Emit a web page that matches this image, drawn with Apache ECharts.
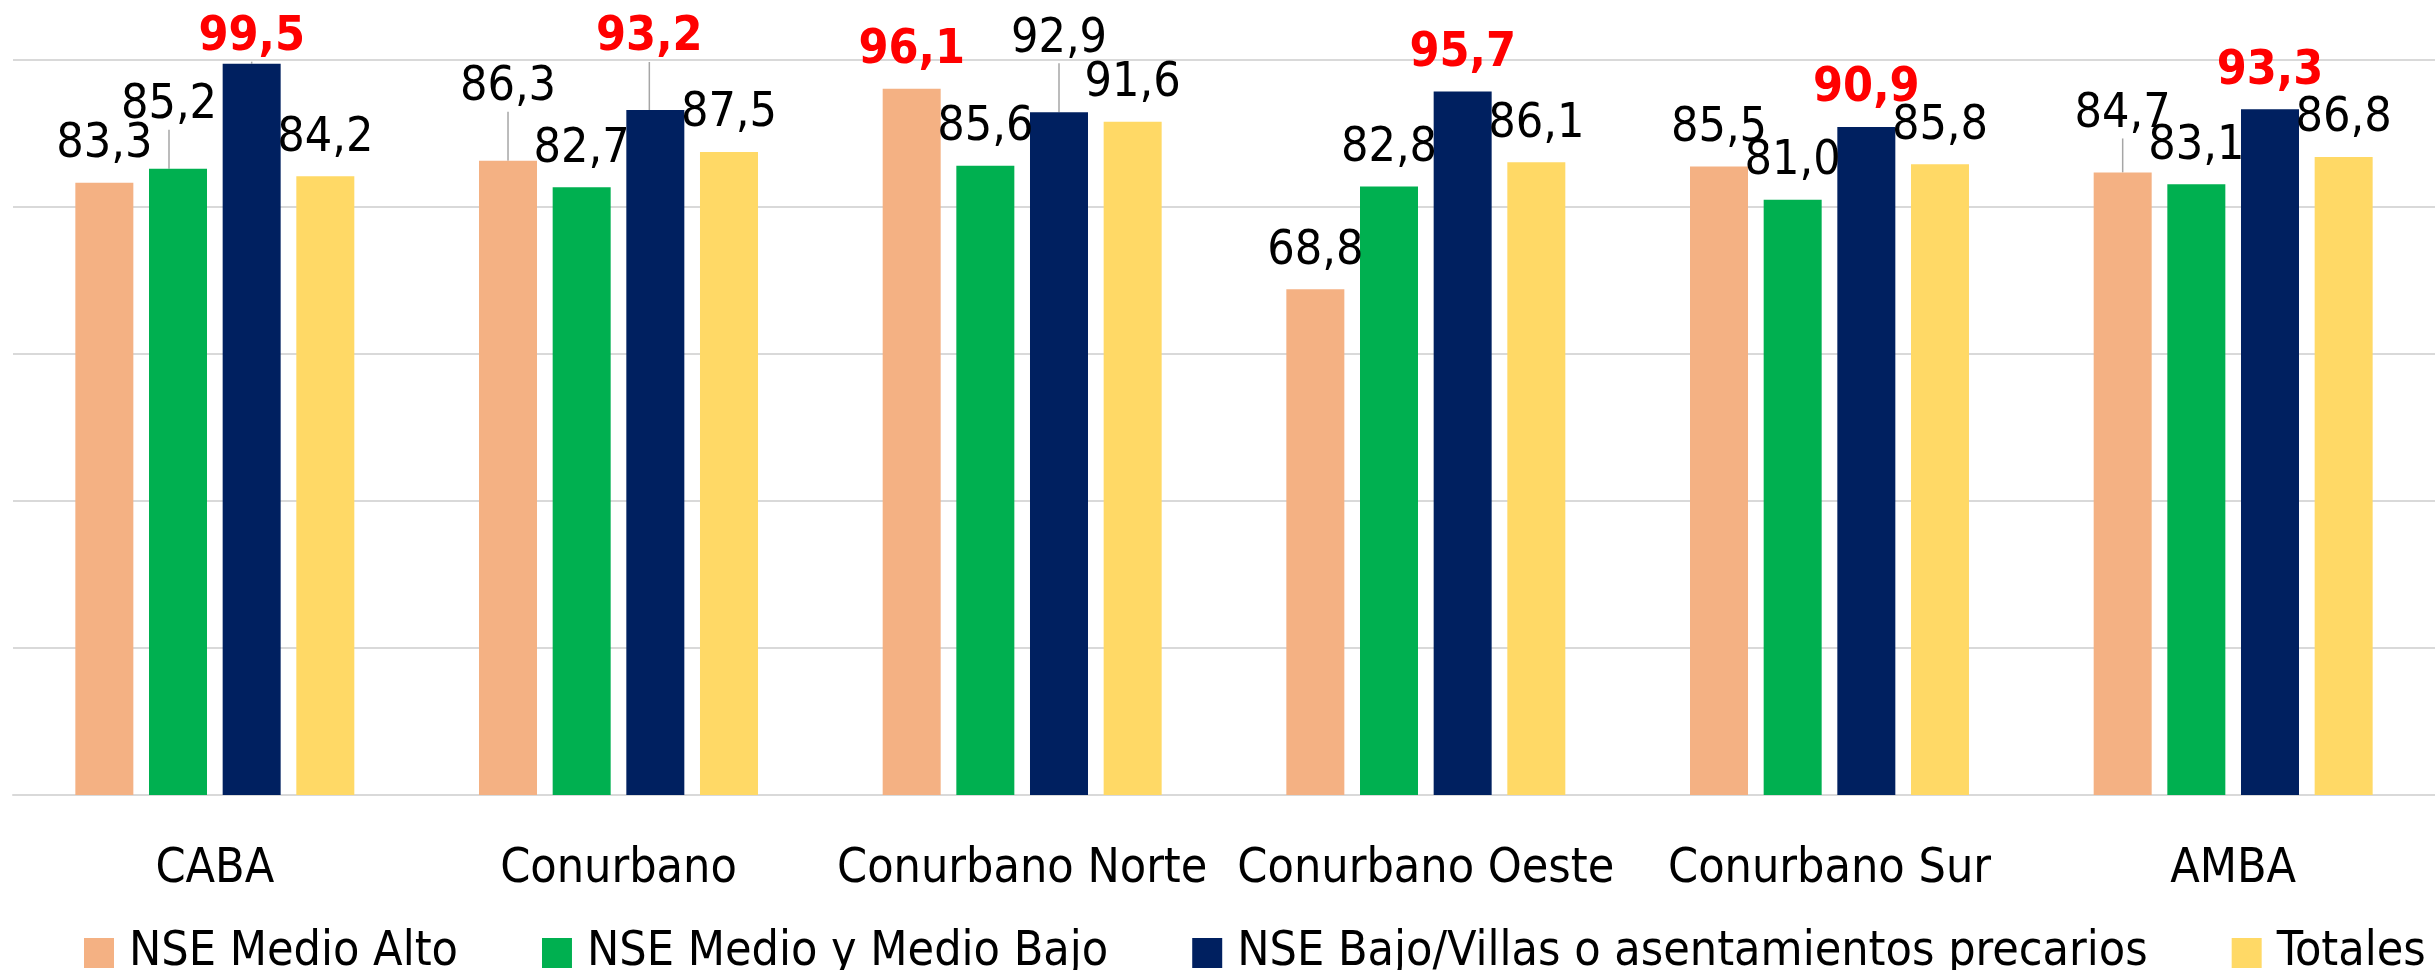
<!DOCTYPE html>
<html>
<head>
<meta charset="utf-8">
<script src="https://cdn.jsdelivr.net/npm/echarts@6/dist/echarts.min.js"></script>
<style>
  html, body { margin: 0; padding: 0; background: #ffffff; }
  #chart { width: 2435px; height: 970px; }
</style>
</head>
<body>
<div id="chart"></div>
<script>
const categories = ['CABA', 'Conurbano', 'Conurbano Norte', 'Conurbano Oeste', 'Conurbano Sur', 'AMBA'];
const seriesNames = ['NSE Medio Alto', 'NSE Medio y Medio Bajo', 'NSE Bajo/Villas o asentamientos precarios', 'Totales'];
const medioAlto  = [83.3, 86.3, 96.1, 68.8, 85.5, 84.7];
const medioBajo  = [85.2, 82.7, 85.6, 82.8, 81.0, 83.1];
const bajoVillas = [99.5, 93.2, 92.9, 95.7, 90.9, 93.3];
const totales    = [84.2, 87.5, 91.6, 86.1, 85.8, 86.8];
const yTicks = [0, 20, 40, 60, 80, 100];

const values = [medioAlto, medioBajo, bajoVillas, totales];
const colors = ['#F4B183', '#00B050', '#002060', '#FFD966'];
const FONT = "'DejaVu Sans Condensed', 'DejaVu Sans', sans-serif";
const FS = 48;

// Manually moved data labels (series index, category index) -> [dx, dy]
const labelShift = {
  '1-0': [-9, -25],
  '0-1': [0, -35],
  '2-0': [0, 12],
  '2-1': [-6, -34],
  '2-2': [0, -35],
  '0-5': [0, -20]
};

const groupMax = categories.map((c, i) => Math.max(...values.map(v => v[i])));
const fmt = v => v.toFixed(1).replace('.', ',');

const series = values.map((arr, s) => ({
  name: seriesNames[s],
  type: 'bar',
  barWidth: 58,
  barGap: '27%',
  itemStyle: { color: colors[s] },
  data: arr.map((v, i) => {
    const isMax = v === groupMax[i];
    const moved = !!labelShift[s + '-' + i];
    return {
      value: v,
      label: isMax ? { color: '#FF0000', fontWeight: 'bold' } : { color: '#000000', fontWeight: 'normal' },
      labelLine: { show: moved }
    };
  }),
  label: {
    show: true,
    position: 'top',
    distance: 14,
    fontFamily: FONT,
    fontSize: FS,
    lineHeight: FS,
    formatter: p => fmt(p.value)
  },
  labelLine: { show: false, lineStyle: { color: '#A6A6A6', width: 1.5 } },
  labelLayout: p => {
    const sh = labelShift[p.seriesIndex + '-' + p.dataIndex];
    return sh ? { dx: sh[0], dy: sh[1] } : {};
  }
}));

const chart = echarts.init(document.getElementById('chart'), null, { renderer: 'canvas' });
chart.setOption({
  backgroundColor: '#ffffff',
  animation: false,
  textStyle: { fontFamily: FONT },
  grid: { left: 13, right: -16, top: 60, bottom: 175, containLabel: false },
  legend: {
    data: seriesNames,
    left: 79,
    top: 924,
    icon: 'rect',
    itemWidth: 30,
    itemHeight: 30,
    itemGap: 84,
    textStyle: { fontFamily: FONT, fontSize: FS, lineHeight: FS, color: '#000', padding: [0, 0, 0, 10] }
  },
  xAxis: {
    type: 'category',
    data: categories,
    axisLine: { show: true, lineStyle: { color: '#D9D9D9', width: 2 } },
    axisTick: { show: false },
    axisLabel: { fontFamily: FONT, fontSize: FS, color: '#000', margin: 51, interval: 0 }
  },
  yAxis: {
    type: 'value',
    min: yTicks[0],
    max: yTicks[yTicks.length - 1],
    interval: yTicks[1] - yTicks[0],
    axisLabel: { show: false },
    axisLine: { show: false },
    axisTick: { show: false },
    splitLine: { lineStyle: { color: '#D9D9D9', width: 2 } }
  },
  series: series
});
</script>
</body>
</html>
